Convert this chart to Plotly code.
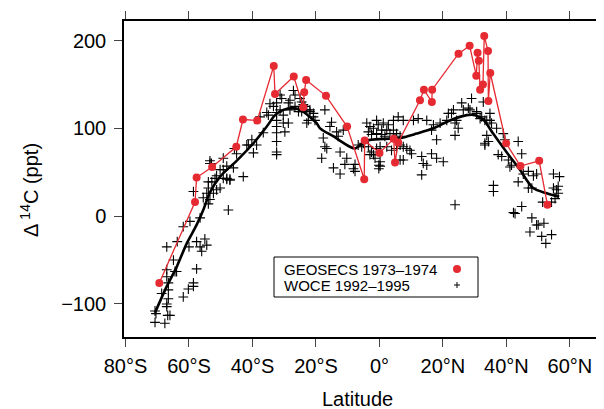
import plotly.graph_objects as go

# ---------------- data ----------------
geosecs_lat = [-69.35, -58.1, -57.6, -52.7, -45.1, -43.0, -38.5, -33.3, -32.9, -27.0,
               -24.0, -23.7, -23.1, -16.85, -10.2, -4.8, -4.66, 0.0, 4.47, 4.9,
               5.9, 12.76, 14.0, 16.5, 16.6, 24.9, 28.4, 30.5, 30.9, 31.3,
               31.7, 32.6, 33.0, 34.2, 34.3, 34.9, 39.9, 44.4, 50.3, 52.9]
geosecs_d14c = [-76, 16, 44, 56, 79, 110, 109, 171, 139, 159,
                124, 141, 155, 137, 102, 42, 86, 72, 88, 61,
                84, 132, 144, 130, 144, 185, 194, 160, 186, 177,
                144, 150, 205, 188, 131, 163, 83, 57, 63, 13]

woce_lat = [
    -70.7, -70.4, -70.7, -67.6, -66.7, -66.0, -67.0, -67.0, -68.6, -66.5,
    -66.5, -67.0, -67.0, -66.5, -64.4, -63.9, -64.9, -61.8, -60.2, -58.6,
    -58.6, -57.6, -67.0, -63.7, -61.8, -60.0, -59.7, -57.6, -56.5, -56.0,
    -55.0, -54.4, -56.5, -55.5, -53.9, -53.4, -54.4, -53.9, -52.3, -51.3,
    -50.2, -52.8, -51.8, -51.3, -49.2, -48.1, -47.1, -50.2, -49.2, -48.1,
    -46.0, -42.9, -47.6, -58.6, -53.9, -53.4,
    -53.4, -52.9, -49.2, -45.7, -45.0, -41.3, -40.2, -38.7, -39.7, -36.6,
    -37.6, -35.0, -34.5, -33.4, -32.4, -32.4, -32.4, -32.4, -32.4, -32.4,
    -32.4, -31.3, -30.3, -30.3, -29.8, -28.7, -28.2, -28.7, -26.6, -25.5,
    -48.1, -47.1,
    -32.4, -31.3, -30.8, -28.2, -27.1, -26.6, -25.0, -24.5, -23.5, -21.9,
    -20.8, -35.5, -41.8,
    -24.0, -24.5, -22.9, -21.9, -20.8, -20.3, -22.4, -22.9, -17.2, -15.1,
    -15.6, -13.5, -13.0, -11.4, -17.7, -17.2, -16.6, -12.4, -10.3, -14.5,
    -12.4, -10.9, -7.7, -7.7, -18.2,
    -4.0, -3.0, -1.9, -0.4, 0.7, 1.2, 2.8, 2.3, -3.5, -2.5,
    -0.9, 0.7, 1.7, 3.3, 4.4, 5.4, 6.5, 4.9, -6.7, -5.6,
    -5.1, -3.5, -2.5, -1.9, -0.9, 0.2, -3.0, -1.4, 0.2, 0.2,
    2.3, 3.8, 5.4, 6.5, 7.5, 8.6, 9.6, 10.1, 6.5, 7.5,
    5.9, 7.5, 10.7, 12.2, 14.9, 16.4, 17.0, 18.0, 19.1, 21.2,
    22.7, 23.3, 24.3, 24.8, 23.8, 25.9, 26.4, 28.5, 29.0, 30.6,
    32.2, 32.7, 33.2, 34.8, 34.8, 33.8, 33.2, 13.3, 13.8, 14.9,
    18.0, 20.1, 13.3, 16.4, -0.9, 4.4,
    21.7, 23.8, 28.0, 30.6, 31.7, 33.8, 35.3, 34.3, 33.2, 36.9,
    39.0, 39.5, 37.4, 38.5, 40.6, 41.6, 41.1, 43.7, 44.8, 43.7,
    45.3, 46.9, 48.5, 49.5, 46.9, 48.0, 35.9, 35.9, 42.2, 42.7,
    44.8, 48.0, 49.5, 50.0, 51.8, 47.4, 51.1, 52.4, 54.2, 54.8,
    56.7, 54.8, 55.8, 56.3, 56.3, 55.3, 54.2, 51.4, 23.8,
    -8.2, -0.2, -0.2,
]
woce_d14c = [
    -108, -111, -121, -122, -113, -113, -103, -100, -88, -84,
    -94, -69, -61, -76, -63, -63, -50, -92, -83, -76,
    -80, -60, -35, -29, -12, -35, -6, -29, -35, -40,
    -26, -33, -2, 21, 14, 19, 26, 32, 26, 30,
    32, 39, 43, 46, 43, 43, 41, 53, 53, 57,
    55, 45, 7, 28, 39, 60,
    63, 60, 66, 77, 71, 81, 87, 81, 72, 95,
    113, 115, 128, 125, 118, 109, 102, 95, 85, 73,
    70, 121, 115, 106, 96, 129, 121, 106, 125, 119,
    42, 42,
    129, 138, 134, 132, 143, 138, 134, 130, 125, 121,
    117, 118, 81,
    127, 119, 121, 119, 113, 109, 109, 106, 121, 107,
    102, 96, 91, 98, 89, 79, 77, 73, 66, 55,
    48, 59, 59, 51, 66,
    106, 102, 100, 104, 98, 106, 104, 98, 96, 93,
    94, 93, 91, 94, 98, 94, 91, 89, 81, 79,
    83, 79, 73, 70, 77, 79, 70, 66, 62, 57,
    79, 75, 77, 81, 79, 77, 75, 71, 64, 64,
    113, 109, 109, 111, 109, 98, 104, 87, 106, 109,
    117, 121, 109, 100, 92, 129, 121, 121, 134, 117,
    113, 130, 109, 117, 109, 92, 83, 68, 60, 58,
    66, 62, 47, 71, 109, 109,
    117, 106, 123, 119, 111, 109, 106, 85, 81, 100,
    94, 87, 70, 68, 64, 58, 56, 85, 71, 39,
    48, 51, 46, 48, 32, 32, 35, 28, 4, 3,
    11, -2, -10, -10, -8, -18, -23, -31, -21, 48,
    45, 32, 30, 34, 26, 20, 16, 16, 13,
    54, 58, 54,
]

fit_lat = [-70.7, -67.0, -63.9, -60.7, -57.6, -55.5, -53.4, -50.2, -45.0, -39.7,
           -35.5, -32.9, -30.3, -27.2, -25.0, -21.9, -19.8, -18.7, -14.6, -9.3,
           -7.7, -4.0, 1.2, 6.5, 11.7, 17.0, 22.2, 27.5, 30.1, 32.7,
           35.8, 40.0, 44.2, 48.4, 52.7, 56.6]
fit_d14c = [-110, -80, -58, -31, -10, 7, 27, 45, 63, 83,
            102, 115, 121, 123, 121, 113, 106, 100, 91, 79,
            77, 86, 88, 89, 94, 100, 109, 115, 115, 110,
            94, 73, 53, 32, 26, 22]

x_tickvals = [-80, -60, -40, -20, 0, 20, 40, 60]
x_ticktext = ["80°S", "60°S", "40°S", "20°S", "0°", "20°N", "40°N", "60°N"]
y_tickvals = [-100, 0, 100, 200]
y_ticktext = ["\u2212100", "0", "100", "200"]
legend_labels = ["GEOSECS 1973\u20131974", "WOCE 1992\u20131995"]

# ---------------- styling ----------------
RED = "#E62A32"
FONT = "Liberation Sans, Arial, Helvetica, sans-serif"
OFF = 8                      # default page (body) margin of the browser
W, H = 604 - OFF, 409 - OFF
L, R, T, B = 124 - OFF, 1, 21 - OFF, 409 - 337
pw, ph = W - L - R, H - T - B


def px(x):  # screen pixel -> paper
    return (x - OFF - L) / pw


def py(y):
    return (H - B - (y - OFF)) / ph


fig = go.Figure()
fig.add_trace(go.Scatter(
    x=woce_lat, y=woce_d14c, mode="markers",
    marker=dict(symbol="cross-thin", size=7, line=dict(color="black", width=1.1)),
    showlegend=False, hoverinfo="skip"))
fig.add_trace(go.Scatter(
    x=fit_lat, y=fit_d14c, mode="lines",
    line=dict(color="black", width=2.6, shape="spline", smoothing=0.8),
    showlegend=False, hoverinfo="skip"))
fig.add_trace(go.Scatter(
    x=geosecs_lat, y=geosecs_d14c, mode="lines+markers",
    line=dict(color=RED, width=1.3),
    marker=dict(symbol="circle", size=8, color=RED),
    showlegend=False, hoverinfo="skip"))

axis_common = dict(showgrid=False, zeroline=False, ticks="outside", ticklen=8,
                   tickwidth=1, tickcolor="#444", showline=True, linecolor="black",
                   linewidth=1.5, automargin=False,
                   tickfont=dict(family=FONT, size=20, color="black"))

fig.update_xaxes(range=[-80.47, 70.41], tickvals=x_tickvals, ticktext=x_ticktext,
                 mirror="ticks", ticklabelstandoff=2, **axis_common)
fig.update_yaxes(range=[-137.6, 222.2], tickvals=y_tickvals, ticktext=y_ticktext,
                 mirror=True, ticklabelstandoff=4, **axis_common)

annotations = [
    dict(text="Latitude", x=px(357.5), y=py(399), xref="paper", yref="paper",
         showarrow=False, xanchor="center", yanchor="middle",
         font=dict(family=FONT, size=20, color="black")),
    dict(text="\u0394\u2009<sup>14</sup>C (ppt)", x=px(29), y=py(190), xref="paper",
         yref="paper", showarrow=False, xanchor="center", yanchor="middle", textangle=-90,
         font=dict(family=FONT, size=20, color="black")),
    dict(text=legend_labels[0], x=px(282), y=py(269), xref="paper", yref="paper",
         showarrow=False, xanchor="left", yanchor="middle",
         font=dict(family=FONT, size=15, color="black")),
    dict(text=legend_labels[1], x=px(282), y=py(285), xref="paper", yref="paper",
         showarrow=False, xanchor="left", yanchor="middle",
         font=dict(family=FONT, size=15, color="black")),
]

shapes = [
    dict(type="rect", xref="paper", yref="paper", x0=px(274), x1=px(478),
         y0=py(297), y1=py(257), line=dict(color="black", width=1), fillcolor="white",
         layer="above"),
    dict(type="circle", xref="paper", yref="paper", x0=px(453), x1=px(461),
         y0=py(273), y1=py(265), line=dict(color=RED, width=0), fillcolor=RED, layer="above"),
    dict(type="line", xref="paper", yref="paper", x0=px(454), x1=px(460),
         y0=py(285), y1=py(285), line=dict(color="black", width=1), layer="above"),
    dict(type="line", xref="paper", yref="paper", x0=px(457), x1=px(457),
         y0=py(282), y1=py(288), line=dict(color="black", width=1), layer="above"),
]

fig.update_layout(
    width=W, height=H, autosize=False,
    margin=dict(l=L, r=R, t=T, b=B, pad=0, autoexpand=False),
    plot_bgcolor="white", paper_bgcolor="white",
    font=dict(family=FONT, color="black"),
    annotations=annotations, shapes=shapes, showlegend=False,
)

fig.write_html("out.html")
